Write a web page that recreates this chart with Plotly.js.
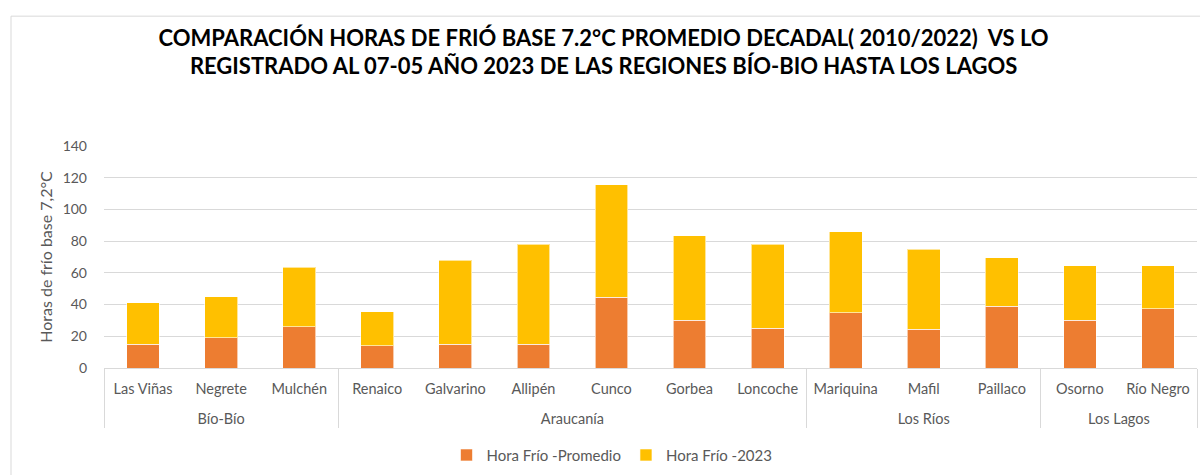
<!DOCTYPE html>
<html>
<head>
<meta charset="utf-8">
<script src="https://cdn.plot.ly/plotly-3.0.1.min.js"></script>
<style>
  html, body { margin: 0; padding: 0; background: #ffffff; }
  #chart { width: 1200px; height: 475px; }
</style>
</head>
<body>
<div id="chart"></div>
<script>
// ---- data ----
var regions = ["Bío-Bío", "Bío-Bío", "Bío-Bío",
               "Araucanía", "Araucanía", "Araucanía", "Araucanía", "Araucanía", "Araucanía",
               "Los Ríos", "Los Ríos", "Los Ríos",
               "Los Lagos", "Los Lagos"];
var stations = ["Las Viñas", "Negrete", "Mulchén",
                "Renaico", "Galvarino", "Allipén", "Cunco", "Gorbea", "Loncoche",
                "Mariquina", "Mafil", "Paillaco",
                "Osorno", "Río Negro"];
var horaPromedio = [15, 19, 26, 14, 15, 15, 44.5, 30, 25, 35, 24.5, 39, 30, 37.5];
var hora2023     = [26, 26, 37.5, 21.5, 53, 63, 71, 53.5, 53, 51, 50.5, 30.5, 34.5, 27];
var seriesNames = ["Hora Frío -Promedio", "Hora Frío -2023"];
var yTicks = [0, 20, 40, 60, 80, 100, 120, 140];

// ---- chart ----
var font = "Lato, Carlito, Calibri, 'Open Sans', sans-serif";
var M = {l: 104, r: 3, t: 146, b: 105};
var W = 1200, H = 475;
var pw = W - M.l - M.r, ph = H - M.t - M.b;
function px(x) { return (x - M.l) / pw; }
function py(y) { return (H - M.b - y) / ph; }

// second-level (region) labels pushed one line lower, like the reference
var regionLabels = regions.map(function (r) { return "<br>" + r; });

var traces = [
  {
    type: "bar", name: seriesNames[0],
    x: [regionLabels, stations], y: horaPromedio,
    marker: {color: "#ED7D31", line: {color: "rgba(255,255,255,0.6)", width: 1}},
    hoverinfo: "skip"
  },
  {
    type: "bar", name: seriesNames[1],
    x: [regionLabels, stations], y: hora2023,
    marker: {color: "#FFC000", line: {color: "rgba(255,255,255,0.6)", width: 1}},
    hoverinfo: "skip"
  }
];

var layout = {
  width: W, height: H,
  margin: M,
  paper_bgcolor: "#ffffff",
  plot_bgcolor: "#ffffff",
  barmode: "stack",
  bargap: 0.58,
  font: {family: font, size: 14, color: "#595959"},
  title: {
    text: "COMPARACIÓN HORAS DE FRIÓ BASE 7.2°C PROMEDIO DECADAL( 2010/2022)  VS LO<br>REGISTRADO AL 07-05 AÑO 2023 DE LAS REGIONES BÍO-BIO HASTA LOS LAGOS",
    font: {family: font, size: 22, color: "#000000", weight: 700},
    x: 0.503, xanchor: "center", xref: "container",
    y: 1 - 45.5 / H, yref: "container", yanchor: "middle"
  },
  xaxis: {
    type: "multicategory",
    showgrid: false,
    showline: true, linecolor: "#D9D9D9", linewidth: 1,
    ticks: "",
    ticklabelstandoff: 8,
    showdividers: true, dividercolor: "#D9D9D9", dividerwidth: 1,
    tickfont: {family: font, size: 14.5, color: "#595959"},
    fixedrange: true
  },
  yaxis: {
    range: [0, 140],
    tickvals: yTicks,
    ticktext: yTicks.map(String),
    showgrid: true, gridcolor: "#D9D9D9", gridwidth: 1,
    zeroline: false, showline: false, ticks: "",
    ticklabelstandoff: 16,
    tickfont: {family: font, size: 14, color: "#595959"},
    title: {text: "Horas de frío base 7,2°C", font: {family: font, size: 16, color: "#595959"}, standoff: 6},
    fixedrange: true
  },
  legend: {
    orientation: "h",
    x: px(612), xanchor: "center",
    y: py(458), yanchor: "middle",
    font: {family: font, size: 15, color: "#595959"},
    traceorder: "normal",
    itemwidth: 30
  },
  shapes: [
    {type: "line", xref: "paper", yref: "paper", x0: px(11), x1: px(1205), y0: py(15), y1: py(15),
     line: {color: "#D9D9D9", width: 1}},
    {type: "line", xref: "paper", yref: "paper", x0: px(11), x1: px(11), y0: py(15), y1: py(480),
     line: {color: "#D9D9D9", width: 1}}
  ],
  showlegend: true
};

Plotly.newPlot("chart", traces, layout, {displayModeBar: false, staticPlot: true});
</script>
</body>
</html>
